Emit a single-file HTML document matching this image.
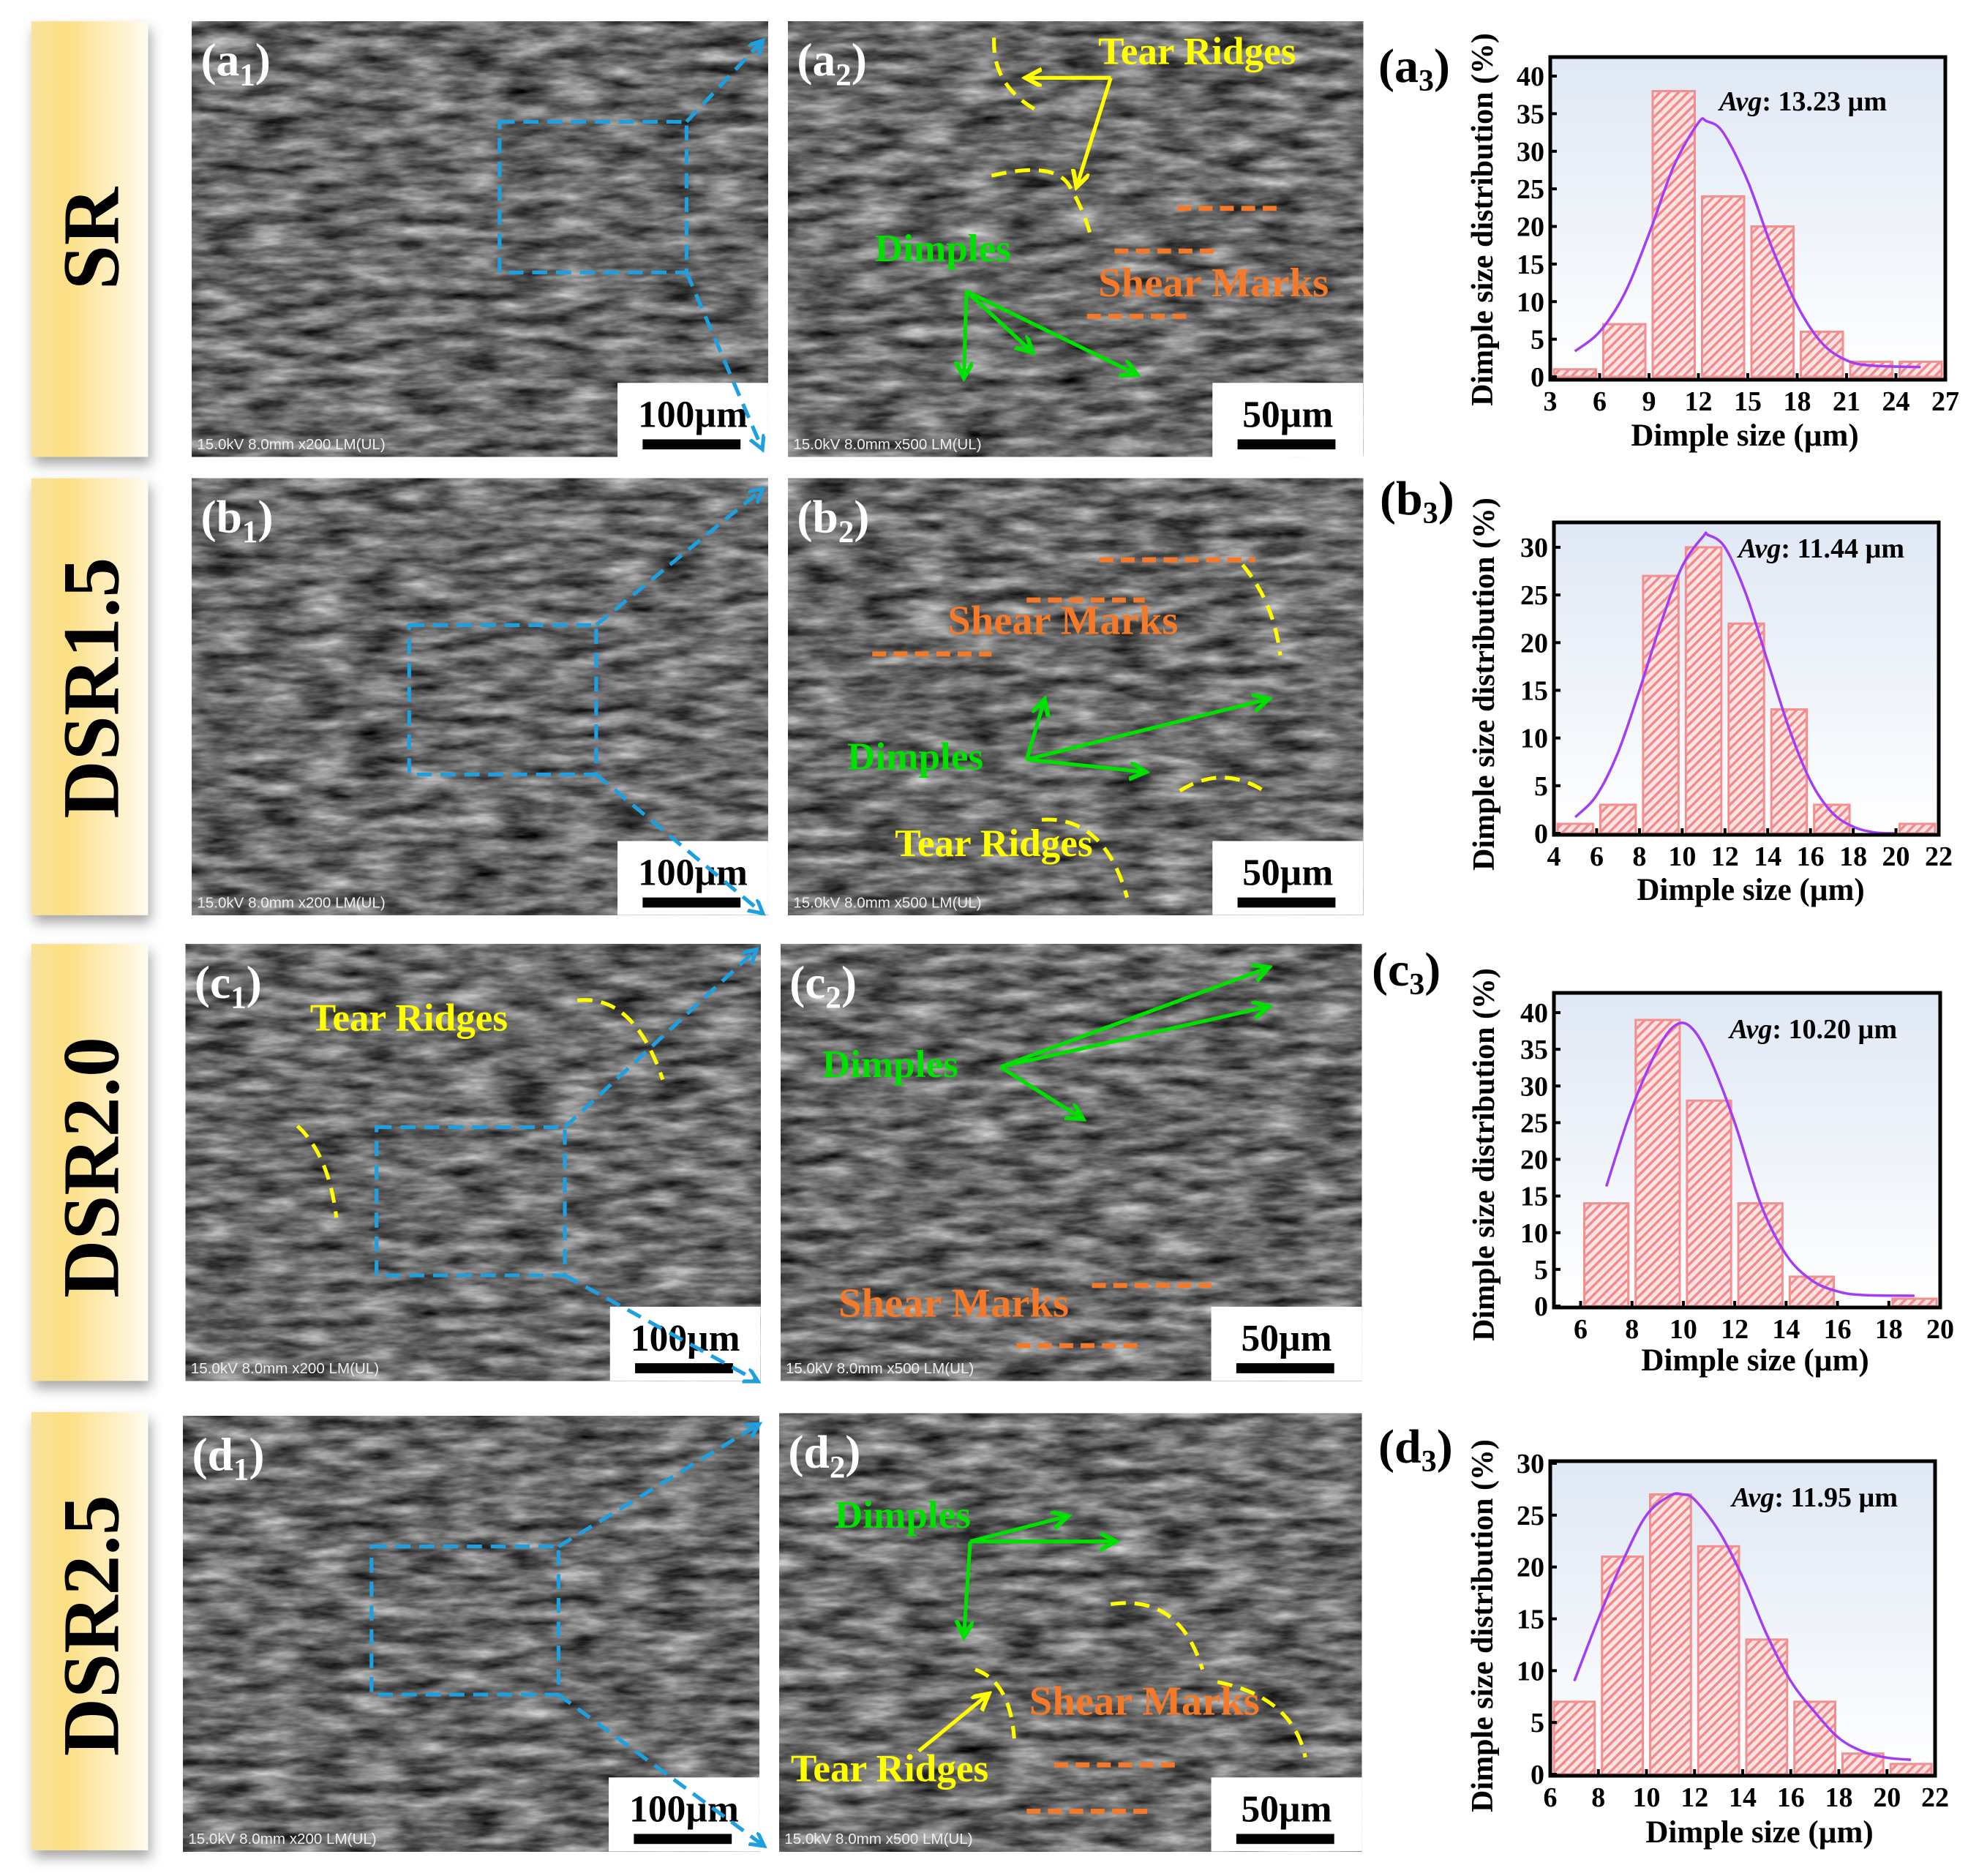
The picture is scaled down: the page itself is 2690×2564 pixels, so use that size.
<!DOCTYPE html>
<html><head><meta charset="utf-8"><style>
html,body{margin:0;padding:0;background:#fff;}
svg{display:block;}
.serif{font-family:"Liberation Serif",serif;font-weight:bold;}
</style></head><body>
<svg id="root" width="2690" height="2564" viewBox="0 0 2690 2564" xmlns="http://www.w3.org/2000/svg">
<defs>
<filter id="sem" x="0" y="0" width="100%" height="100%" color-interpolation-filters="sRGB">
<feTurbulence type="fractalNoise" baseFrequency="0.025 0.1" numOctaves="4" seed="4"/>
<feColorMatrix type="matrix" values="0.95 0 0 0 -0.06  0.95 0 0 0 -0.06  0.95 0 0 0 -0.06  0 0 0 0 1"/>
</filter>
<linearGradient id="side" x1="0" y1="0" x2="1" y2="0">
<stop offset="0" stop-color="#f8e39a"/><stop offset="0.3" stop-color="#fcdf84"/><stop offset="1" stop-color="#fffbf0"/>
</linearGradient>
<linearGradient id="plotbg" x1="0" y1="0" x2="0" y2="1">
<stop offset="0" stop-color="#dfe8f5"/><stop offset="1" stop-color="#ffffff"/>
</linearGradient>
<pattern id="hatch" width="9" height="9" patternUnits="userSpaceOnUse" patternTransform="rotate(45)">
<rect width="9" height="9" fill="#fde3e3"/><rect width="3.5" height="9" fill="#f28b8b"/>
</pattern>
<filter id="shadow" x="-10%" y="-5%" width="130%" height="115%"><feDropShadow dx="2" dy="6" stdDeviation="5" flood-color="#000" flood-opacity="0.35"/></filter>
<marker id="ab" markerWidth="14" markerHeight="14" refX="10" refY="6" orient="auto" markerUnits="userSpaceOnUse"><path d="M0,0 L11,6 L0,12" fill="none" stroke="#1ea0e0" stroke-width="3"/></marker>
<marker id="ay" markerWidth="16" markerHeight="16" refX="12" refY="7" orient="auto" markerUnits="userSpaceOnUse"><path d="M0,0 L13,7 L0,14" fill="none" stroke="#ffff00" stroke-width="3.5"/></marker>
<marker id="ag" markerWidth="16" markerHeight="16" refX="12" refY="7" orient="auto" markerUnits="userSpaceOnUse"><path d="M0,0 L13,7 L0,14" fill="none" stroke="#00e000" stroke-width="3.5"/></marker>
</defs>

<g transform="scale(1.7156)">
  <g><rect x="25" y="17" width="93" height="347" fill="url(#side)" filter="url(#shadow)"/><text class="serif" font-size="64" transform="translate(94,190) rotate(-90)" text-anchor="middle">SR</text></g>
  <g><rect x="25" y="381" width="93" height="348" fill="url(#side)" filter="url(#shadow)"/><text class="serif" font-size="64" transform="translate(94,548) rotate(-90)" text-anchor="middle">DSR1.5</text></g>
  <g><rect x="25" y="752" width="93" height="348" fill="url(#side)" filter="url(#shadow)"/><text class="serif" font-size="64" transform="translate(94,930) rotate(-90)" text-anchor="middle">DSR2.0</text></g>
  <g><rect x="25" y="1125" width="93" height="349" fill="url(#side)" filter="url(#shadow)"/><text class="serif" font-size="64" transform="translate(94,1295) rotate(-90)" text-anchor="middle">DSR2.5</text></g>

  <g id="sems"></g>

  <g fill="none" stroke="#1ea0e0" stroke-width="3" stroke-dasharray="12 7">
    <rect x="398" y="97" width="149" height="120"/>
    <line x1="547" y1="97" x2="607" y2="33" marker-end="url(#ab)"/>
    <line x1="547" y1="217" x2="607" y2="357" marker-end="url(#ab)"/>
    <rect x="326" y="498" width="149" height="119"/>
    <line x1="475" y1="498" x2="607" y2="390" marker-end="url(#ab)"/>
    <line x1="475" y1="617" x2="607" y2="727" marker-end="url(#ab)"/>
    <rect x="300" y="898" width="150" height="118"/>
    <line x1="450" y1="898" x2="602" y2="757" marker-end="url(#ab)"/>
    <line x1="450" y1="1016" x2="603" y2="1100" marker-end="url(#ab)"/>
    <rect x="296" y="1232" width="149" height="118"/>
    <line x1="445" y1="1232" x2="604" y2="1135" marker-end="url(#ab)"/>
    <line x1="445" y1="1350" x2="608" y2="1470" marker-end="url(#ab)"/>
  </g>

  <g class="serif" font-size="31">
    <text x="875" y="51" fill="#ffff00">Tear Ridges</text>
    <path d="M885,62 L818,62" stroke="#ffff00" stroke-width="3" fill="none" marker-end="url(#ay)"/>
    <path d="M885,62 L858,148" stroke="#ffff00" stroke-width="3" fill="none" marker-end="url(#ay)"/>
    <path d="M792,30 Q790,70 830,90 M790,140 Q840,128 852,148 Q865,170 870,192" stroke="#ffff00" stroke-width="3" fill="none" stroke-dasharray="12 7"/>
    <text x="697" y="208" fill="#00e000">Dimples</text>
    <path d="M770,232 L768,300" stroke="#00e000" stroke-width="3" fill="none" marker-end="url(#ag)"/>
    <path d="M770,232 L822,280" stroke="#00e000" stroke-width="3" fill="none" marker-end="url(#ag)"/>
    <path d="M770,232 L905,298" stroke="#00e000" stroke-width="3" fill="none" marker-end="url(#ag)"/>
    <path d="M938,166 H1020 M888,200 H968 M866,252 H950" stroke="#f47a2a" stroke-width="4" stroke-dasharray="11 6"/>
    <text x="875" y="236" fill="#f47a2a" font-size="33">Shear Marks</text>
  </g>
  <g class="serif" font-size="31">
    <path d="M876,446 H1000 M818,478 H912 M695,521 H790" stroke="#f47a2a" stroke-width="4" stroke-dasharray="11 6"/>
    <text x="755" y="505" fill="#f47a2a" font-size="33">Shear Marks</text>
    <path d="M990,450 Q1015,480 1020,522 M940,630 Q975,608 1010,632 M830,653 Q880,650 898,715" stroke="#ffff00" stroke-width="3" fill="none" stroke-dasharray="12 7"/>
    <text x="675" y="613" fill="#00e000">Dimples</text>
    <path d="M818,605 L832,558" stroke="#00e000" stroke-width="3" fill="none" marker-end="url(#ag)"/>
    <path d="M818,605 L1010,557" stroke="#00e000" stroke-width="3" fill="none" marker-end="url(#ag)"/>
    <path d="M818,605 L912,615" stroke="#00e000" stroke-width="3" fill="none" marker-end="url(#ag)"/>
    <text x="713" y="682" fill="#ffff00">Tear Ridges</text>
  </g>
  <g class="serif" font-size="31">
    <text x="247" y="821" fill="#ffff00">Tear Ridges</text>
    <path d="M460,797 Q505,792 528,860 M237,897 Q262,920 268,970" stroke="#ffff00" stroke-width="3" fill="none" stroke-dasharray="12 7"/>
    <text x="655" y="858" fill="#00e000">Dimples</text>
    <path d="M797,850 L1010,771" stroke="#00e000" stroke-width="3" fill="none" marker-end="url(#ag)"/>
    <path d="M797,850 L1010,802" stroke="#00e000" stroke-width="3" fill="none" marker-end="url(#ag)"/>
    <path d="M797,850 L862,891" stroke="#00e000" stroke-width="3" fill="none" marker-end="url(#ag)"/>
    <path d="M870,1024 H965 M810,1072 H908" stroke="#f47a2a" stroke-width="4" stroke-dasharray="11 6"/>
    <text x="668" y="1049" fill="#f47a2a" font-size="33">Shear Marks</text>
  </g>
  <g class="serif" font-size="31">
    <text x="665" y="1217" fill="#00e000">Dimples</text>
    <path d="M773,1228 L768,1303" stroke="#00e000" stroke-width="3" fill="none" marker-end="url(#ag)"/>
    <path d="M773,1228 L888,1228" stroke="#00e000" stroke-width="3" fill="none" marker-end="url(#ag)"/>
    <path d="M773,1228 L850,1208" stroke="#00e000" stroke-width="3" fill="none" marker-end="url(#ag)"/>
    <path d="M777,1330 Q805,1340 808,1385 M885,1278 Q940,1270 958,1330 M970,1340 Q1030,1352 1040,1400" stroke="#ffff00" stroke-width="3" fill="none" stroke-dasharray="12 7"/>
    <text x="820" y="1366" fill="#f47a2a" font-size="33">Shear Marks</text>
    <path d="M840,1406 H938 M818,1443 H915" stroke="#f47a2a" stroke-width="4" stroke-dasharray="11 6"/>
    <text x="630" y="1419" fill="#ffff00">Tear Ridges</text>
    <path d="M732,1395 L787,1350" stroke="#ffff00" stroke-width="3" fill="none" marker-end="url(#ay)"/>
  </g>
</g>

<g id="charts"></g>
</svg>

<script>
const NS = "http://www.w3.org/2000/svg";
function el(tag, attrs, parent){const e=document.createElementNS(NS,tag);for(const k in attrs)e.setAttribute(k,attrs[k]);if(parent)parent.appendChild(e);return e;}

const semPanels = [
 {id:"a1",x:153,y:17,w:459,h:347,bar:"100µm",mag:"x200"},
 {id:"a2",x:628,y:17,w:458,h:347,bar:"50µm",mag:"x500"},
 {id:"b1",x:153,y:381,w:459,h:348,bar:"100µm",mag:"x200"},
 {id:"b2",x:628,y:381,w:458,h:348,bar:"50µm",mag:"x500"},
 {id:"c1",x:148,y:752,w:458,h:348,bar:"100µm",mag:"x200"},
 {id:"c2",x:622,y:752,w:463,h:348,bar:"50µm",mag:"x500"},
 {id:"d1",x:146,y:1128,w:459,h:347,bar:"100µm",mag:"x200"},
 {id:"d2",x:621,y:1126,w:464,h:349,bar:"50µm",mag:"x500"}
];
const semG = document.getElementById("sems");
semPanels.forEach(p=>{
  const g = el("g",{},semG);
  
  
  el("rect",{x:p.x,y:p.y,width:p.w,height:p.h,fill:"#5f5f5f"},g);
  el("rect",{x:p.x,y:p.y,width:p.w,height:p.h,filter:"url(#sem)"},g);
  const lbl = el("text",{x:p.x+7,y:p.y+43,fill:"#fff","font-size":"37","font-family":"Liberation Serif, serif","font-weight":"bold"},g);
  lbl.textContent = "("+p.id[0];
  const sub = el("tspan",{"font-size":"25",dy:"8"},lbl); sub.textContent=p.id[1];
  const cl = el("tspan",{"font-size":"37",dy:"-8"},lbl); cl.textContent=")";
  
  
  const info = el("text",{x:p.x+4,y:p.y+p.h-6,fill:"#eee","font-size":"12","font-family":"Liberation Sans, sans-serif"},g);
  info.textContent = "15.0kV 8.0mm "+p.mag+" LM(UL)";
  
  
  const bx = p.x+p.w-120;
  const sb = el("g",{},g);
  
  
  el("rect",{x:bx,y:p.y+p.h-59,width:120,height:59,fill:"#fff"},sb);
  const st = el("text",{x:bx+60,y:p.y+p.h-24,"text-anchor":"middle","font-size":"30","font-family":"Liberation Serif, serif","font-weight":"bold"},sb);
  st.textContent = p.bar;
  el("rect",{x:bx+20,y:p.y+p.h-14,width:78,height:8,fill:"#000"},sb);
});

const a3_bins = [4.5,7.5,10.5,13.5,16.5,19.5,22.5,25.5];
const a3_values = [1,7,38,24,20,6,2,2];
const a3_curveX = [4.5,6,7.5,9,10.5,12,12.5,13.5,15,16.5,18,19.5,21,22.5,25.5];
const a3_curveY = [3.4,6,11,19,28,33.8,34,32.5,26,17,9.5,4.5,2.2,1.5,1.3];
const a3_xTicks = [3,6,9,12,15,18,21,24,27];
const a3_yTicks = [0,5,10,15,20,25,30,35,40];
const a3_avg = "13.23 µm";

const b3_bins = [5,7,9,11,13,15,17,19,21];
const b3_values = [1,3,27,30,22,13,3,0,1];
const b3_curveX = [5,6,7,8,9,10,11,11.2,12,13,14,15,16,17,18,19,20];
const b3_curveY = [1.7,4,8.5,15,22,28,31.2,31.3,30,25,18,11,5.5,2.2,0.7,0.1,0];
const b3_xTicks = [4,6,8,10,12,14,16,18,20,22];
const b3_yTicks = [0,5,10,15,20,25,30];
const b3_avg = "11.44 µm";

const c3_bins = [7,9,11,13,15,17,19];
const c3_values = [14,39,28,14,4,0,1];
const c3_curveX = [7,8,9,9.7,10.3,11,12,13,14,15,16,17,19];
const c3_curveY = [16.3,27,35,38.3,38,34,25,14,7,3.5,2,1.5,1.4];
const c3_xTicks = [6,8,10,12,14,16,18,20];
const c3_yTicks = [0,5,10,15,20,25,30,35,40];
const c3_avg = "10.20 µm";

const d3_bins = [7,9,11,13,15,17,19,21];
const d3_values = [7,21,27,22,13,7,2,1];
const d3_curveX = [7,8,9,10,11,11.5,12,13,14,15,16,17,18,19,20,21];
const d3_curveY = [9,15,20.5,25,26.9,27,26.5,23.5,19,13.5,9,6,3.5,2.2,1.6,1.4];
const d3_xTicks = [6,8,10,12,14,16,18,20,22];
const d3_yTicks = [0,5,10,15,20,25,30];
const d3_avg = "11.95 µm";

const charts = [
 {id:"a3", bins:a3_bins, vals:a3_values, cx:a3_curveX, cy:a3_curveY, xt:a3_xTicks, yt:a3_yTicks, avg:a3_avg, bw:3,
  fx:2119, fy:78, fw:540, fh:441, x0:3, x1:27, y0px:515, yMaxVal:40, yMaxPx:104,
  lab:[1884,112], ytitle:[2040,300], xtitle:[2385,609], avgPos:[2350,151]},
 {id:"b3", bins:b3_bins, vals:b3_values, cx:b3_curveX, cy:b3_curveY, xt:b3_xTicks, yt:b3_yTicks, avg:b3_avg, bw:2,
  fx:2124, fy:714, fw:526, fh:427, x0:4, x1:22, y0px:1139, yMaxVal:30, yMaxPx:748,
  lab:[1886,703], ytitle:[2042,935], xtitle:[2393,1230], avgPos:[2376,762]},
 {id:"c3", bins:c3_bins, vals:c3_values, cx:c3_curveX, cy:c3_curveY, xt:c3_xTicks, yt:c3_yTicks, avg:c3_avg, bw:2,
  fx:2124, fy:1357, fw:528, fh:430, x0:4.96, x1:20, y0px:1785, yMaxVal:40, yMaxPx:1384,
  lab:[1875,1347], ytitle:[2042,1578], xtitle:[2399,1873], avgPos:[2364,1419]},
 {id:"d3", bins:d3_bins, vals:d3_values, cx:d3_curveX, cy:d3_curveY, xt:d3_xTicks, yt:d3_yTicks, avg:d3_avg, bw:2,
  fx:2119, fy:1997, fw:526, fh:430, x0:6, x1:22, y0px:2425, yMaxVal:30, yMaxPx:2000,
  lab:[1884,1999], ytitle:[2040,2222], xtitle:[2405,2518], avgPos:[2367,2059]}
];

const chartsG = document.getElementById("charts");
const FONT = "Liberation Serif, serif";
charts.forEach(c=>{
  const X = v => c.fx + (v - c.x0) / (c.x1 - c.x0) * c.fw;
  const Y = v => c.y0px - v * (c.y0px - c.yMaxPx) / c.yMaxVal;
  const g = el("g",{},chartsG);
  
  
  const bg = el("rect",{x:c.fx,y:c.fy,width:c.fw,height:c.fh,fill:"url(#plotbg)"},g);
  
  
  c.bins.forEach((b,i)=>{
    if(c.vals[i] <= 0) return;
    const x1 = X(b - c.bw/2) + 5, x2 = X(b + c.bw/2) - 5;
    const r = el("rect",{x:x1,y:Y(c.vals[i]),width:x2-x1,height:Y(0)-Y(c.vals[i]),fill:"url(#hatch)",stroke:"#f58e8e","stroke-width":"3"},g);
    
    
  });
  const pts = c.cx.map((x,i)=>[X(x),Y(c.cy[i])]);
  let d = "M"+pts[0][0]+","+pts[0][1];
  for(let i=0;i<pts.length-1;i++){
    const p0=pts[Math.max(0,i-1)],p1=pts[i],p2=pts[i+1],p3=pts[Math.min(pts.length-1,i+2)];
    d += " C"+(p1[0]+(p2[0]-p0[0])/6)+","+(p1[1]+(p2[1]-p0[1])/6)+" "+(p2[0]-(p3[0]-p1[0])/6)+","+(p2[1]-(p3[1]-p1[1])/6)+" "+p2[0]+","+p2[1];
  }
  const curve = el("path",{d:d,fill:"none",stroke:"#a33cf2","stroke-width":"3.5"},g);
  
  
  const fr = el("rect",{x:c.fx,y:c.fy,width:c.fw,height:c.fh,fill:"none",stroke:"#000","stroke-width":"5"},g);
  
  
  c.yt.forEach(t=>{
    el("line",{x1:c.fx,x2:c.fx+9,y1:Y(t),y2:Y(t),stroke:"#000","stroke-width":"4"},g);
    const tx = el("text",{x:c.fx-8,y:Y(t)+13,"text-anchor":"end","font-size":"38","font-family":FONT,"font-weight":"bold"},g);
    tx.textContent = t;
    
    
  });
  c.xt.forEach(t=>{
    el("line",{x1:X(t),x2:X(t),y1:c.fy+c.fh,y2:c.fy+c.fh-9,stroke:"#000","stroke-width":"4"},g);
    const tx = el("text",{x:X(t),y:c.fy+c.fh+42,"text-anchor":"middle","font-size":"38","font-family":FONT,"font-weight":"bold"},g);
    tx.textContent = t;
    
    
  });
  const xt = el("text",{x:c.xtitle[0],y:c.xtitle[1],"text-anchor":"middle","font-size":"43","font-family":FONT,"font-weight":"bold"},g);
  xt.textContent = "Dimple size (µm)";
  
  
  const yt = el("text",{transform:"translate("+c.ytitle[0]+","+c.ytitle[1]+") rotate(-90)","text-anchor":"middle","font-size":"42","font-family":FONT,"font-weight":"bold"},g);
  yt.textContent = "Dimple size distribution (%)";
  
  
  const av = el("text",{x:c.avgPos[0],y:c.avgPos[1],"font-size":"38","font-family":FONT,"font-weight":"bold"},g);
  const ai = el("tspan",{"font-style":"italic"},av); ai.textContent="Avg";
  const an = el("tspan",{},av); an.textContent=":  "+c.avg;
  
  
  const lb = el("text",{x:c.lab[0],y:c.lab[1],"font-size":"66","font-family":FONT,"font-weight":"bold"},g);
  lb.textContent = "("+c.id[0];
  const ls = el("tspan",{"font-size":"42",dy:"12"},lb); ls.textContent=c.id[1];
  const lc = el("tspan",{"font-size":"66",dy:"-12"},lb); lc.textContent=")";
  
  
});
</script>
</body></html>
